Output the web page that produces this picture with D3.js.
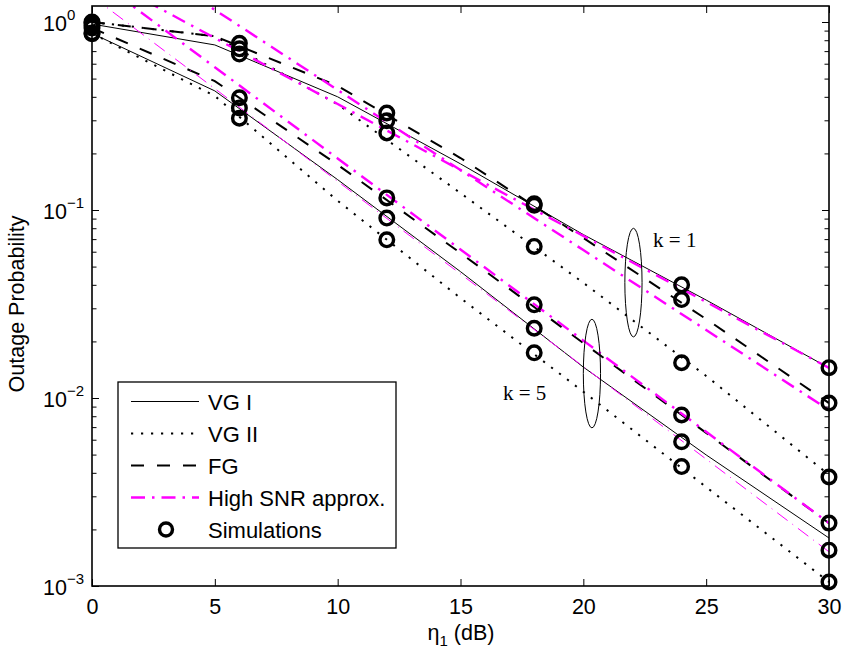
<!DOCTYPE html>
<html><head><meta charset="utf-8">
<script src="https://cdn.jsdelivr.net/npm/d3@7"></script>
<style>body{margin:0;background:#fff} svg{display:block}</style>
</head><body><svg id="c" width="845" height="655"></svg>
<script>
// ---------- data ----------
const xCurve = [0, 5, 10, 15, 20, 25, 30];
const vg1K1 = [0.975, 0.755, 0.40, 0.176, 0.074, 0.0332, 0.01445];
const vg2K1 = [1.0, 0.84, 0.365, 0.123, 0.041, 0.0131, 0.0039];
const fgK1  = [1.0, 0.84, 0.457, 0.189, 0.071, 0.0263, 0.0094];
const apxVg1K1 = [1.845, 0.822, 0.366, 0.163, 0.0728, 0.0324, 0.01445];
const apxFgK1  = [3.08, 1.16, 0.435, 0.163, 0.0612, 0.0230, 0.00863];
const vg1K5 = [0.87, 0.43, 0.145, 0.047, 0.0146, 0.00498, 0.0018];
const vg2K5 = [0.87, 0.404, 0.112, 0.034, 0.0108, 0.00336, 0.00105];
const fgK5  = [0.93, 0.485, 0.174, 0.059, 0.0196, 0.00652, 0.00216];
const apxFgK5  = [1.758, 0.575, 0.188, 0.0617, 0.0202, 0.00661, 0.00216];
const apxVg1K5 = [1.37, 0.442, 0.142, 0.0457, 0.0147, 0.00473, 0.00152];

const xSim = [0, 6, 12, 18, 24, 30];
const simVg1K1 = [0.96, 0.675, 0.298, 0.108, 0.040, 0.0145];
const simFgK1  = [1.0, 0.77, 0.328, 0.106, 0.0334, 0.0094];
const simVg2K1 = [0.99, 0.72, 0.257, 0.064, 0.0154, 0.0038];
const simFgK5  = [0.93, 0.395, 0.116, 0.0313, 0.00812, 0.00216];
const simVg1K5 = [0.875, 0.349, 0.0906, 0.0235, 0.00585, 0.00155];
const simVg2K5 = [0.865, 0.308, 0.0694, 0.0174, 0.00432, 0.00105];

const xTicks = [0, 5, 10, 15, 20, 25, 30];
const yTickExps = [-3, -2, -1, 0];
const legendLabels = ["VG I", "VG II", "FG", "High SNR approx.", "Simulations"];
const kLabels = ["k = 1", "k = 5"];
const kLabelPos = [[22.84, 0.0636], [16.73, 0.00976]];
const ellipseCenters = [[22.04, 0.0411], [20.35, 0.01349]];

// ---------- layout ----------
const L = 92, R = 829, T = 6, B = 586;
const svg = d3.select("#c");
const FONT = "'Liberation Sans', Arial, Helvetica, sans-serif";
const x = d3.scaleLinear().domain([0, 30]).range([L, R]);
const y = d3.scaleLog().domain([1e-3, 1]).range([B, 22]);

svg.append("defs").append("clipPath").attr("id", "clip")
  .append("rect").attr("x", L).attr("y", T).attr("width", R - L).attr("height", B - T);

const styles = {
  solid: {stroke: "#000", w: 1, dash: null},
  dotted: {stroke: "#000", w: 2, dash: "2.2,7.8"},
  dashed: {stroke: "#000", w: 2, dash: "13,13"},
  apx: {stroke: "#ff00ff", w: 2.4, dash: "14,7,2.5,7"},
  apxThin: {stroke: "#ff00ff", w: 1, dash: "13,6,1,6"}
};

const series = [
  [vg2K1, "dotted"], [vg2K5, "dotted"],
  [vg1K1, "solid"], [vg1K5, "solid"],
  [fgK1, "dashed"], [fgK5, "dashed"],
  [apxVg1K1, "apx"], [apxFgK1, "apx"], [apxFgK5, "apx"], [apxVg1K5, "apxThin"]
];
const line = d3.line().x(d => x(d[0])).y(d => y(d[1]));
const g = svg.append("g").attr("clip-path", "url(#clip)");
series.forEach(([vals, st]) => {
  const s = styles[st];
  g.append("path").datum(xCurve.map((xv, i) => [xv, vals[i]]))
    .attr("d", line).attr("fill", "none")
    .attr("stroke", s.stroke).attr("stroke-width", s.w)
    .attr("stroke-dasharray", s.dash);
});

// simulations
[simVg1K1, simFgK1, simVg2K1, simFgK5, simVg1K5, simVg2K5].forEach(vals => {
  svg.append("g").selectAll("circle").data(xSim.map((xv, i) => [xv, vals[i]]))
    .join("circle").attr("cx", d => x(d[0])).attr("cy", d => y(d[1]))
    .attr("r", 6.8).attr("fill", "none").attr("stroke", "#000").attr("stroke-width", 3.4);
});

// annotations
ellipseCenters.forEach(c => {
  svg.append("ellipse").attr("cx", x(c[0])).attr("cy", y(c[1]))
    .attr("rx", 8.6).attr("ry", 54.3).attr("fill", "none").attr("stroke", "#000").attr("stroke-width", 1);
});
kLabels.forEach((t, i) => {
  svg.append("text").attr("x", x(kLabelPos[i][0])).attr("y", y(kLabelPos[i][1]))
    .attr("font-family", "'Liberation Serif', 'Times New Roman', serif").attr("font-size", 21)
    .text(t);
});

// ---------- axes ----------
const minorVals = [];
for (let e = -3; e <= 0; e++) for (let m = 2; m <= 9; m++) { const v = m * Math.pow(10, e); if (y(v) >= T) minorVals.push(v); }
const majorVals = yTickExps.map(e => Math.pow(10, e));

function styleAxis(sel) {
  sel.select(".domain").remove();
  sel.selectAll(".tick line").attr("stroke", "#000").attr("stroke-width", 1);
}
svg.append("g").attr("transform", `translate(0,${B})`)
  .call(d3.axisBottom(x).tickValues(xTicks).tickSize(-7).tickPadding(12.5).tickFormat(d3.format("d")))
  .call(styleAxis)
  .call(s => s.selectAll("text").attr("font-family", FONT).attr("font-size", 21.5).attr("fill", "#000"));
svg.append("g").attr("transform", `translate(0,${T})`)
  .call(d3.axisTop(x).tickValues(xTicks).tickSize(-7).tickFormat(""))
  .call(styleAxis);
svg.append("g").attr("transform", `translate(${L},0)`)
  .call(d3.axisLeft(y).tickValues(majorVals).tickSize(-7).tickFormat("")).call(styleAxis);
svg.append("g").attr("transform", `translate(${L},0)`)
  .call(d3.axisLeft(y).tickValues(minorVals).tickSize(-4.5).tickFormat("")).call(styleAxis);
svg.append("g").attr("transform", `translate(${R},0)`)
  .call(d3.axisRight(y).tickValues(majorVals).tickSize(-7).tickFormat("")).call(styleAxis);
svg.append("g").attr("transform", `translate(${R},0)`)
  .call(d3.axisRight(y).tickValues(minorVals).tickSize(-4.5).tickFormat("")).call(styleAxis);

// y tick labels 10^k
yTickExps.forEach(e => {
  const t = svg.append("text").attr("x", 43).attr("y", y(Math.pow(10, e)) + 8.5)
    .attr("font-family", FONT).attr("font-size", 21.5).attr("fill", "#000");
  t.append("tspan").text("10");
  t.append("tspan").attr("dy", -11).attr("font-size", 15).text(e < 0 ? "\u2212" + (-e) : String(e));
});

// box
svg.append("rect").attr("x", L).attr("y", T).attr("width", R - L).attr("height", B - T)
  .attr("fill", "none").attr("stroke", "#000").attr("stroke-width", 1.6);

// axis titles
const xl = svg.append("text").attr("x", 461).attr("y", 640).attr("text-anchor", "middle")
  .attr("font-family", FONT).attr("font-size", 21.5);
xl.append("tspan").text("\u03B7");
xl.append("tspan").attr("dy", 6).attr("font-size", 15).text("1");
xl.append("tspan").attr("dy", -6).text(" (dB)");
svg.append("text").attr("transform", `translate(24,${(T + B) / 2 + 8}) rotate(-90)`)
  .attr("text-anchor", "middle").attr("font-family", FONT).attr("font-size", 21.5)
  .text("Outage Probability");

// ---------- legend ----------
const lg = svg.append("g");
lg.append("rect").attr("x", 118).attr("y", 382).attr("width", 278).attr("height", 166)
  .attr("fill", "#fff").attr("stroke", "#000").attr("stroke-width", 1.3);
const legStyles = ["solid", "dotted", "dashed", "apx", null];
legendLabels.forEach((lab, i) => {
  const cy = 401.5 + i * 32;
  const st = legStyles[i];
  if (st) {
    const s = styles[st];
    lg.append("line").attr("x1", 131).attr("x2", 199).attr("y1", cy).attr("y2", cy)
      .attr("stroke", s.stroke).attr("stroke-width", s.w).attr("stroke-dasharray", s.dash);
  } else {
    lg.append("circle").attr("cx", 166).attr("cy", cy).attr("r", 6.5)
      .attr("fill", "none").attr("stroke", "#000").attr("stroke-width", 3.4);
  }
  lg.append("text").attr("x", 208).attr("y", cy + 8).attr("font-family", FONT)
    .attr("font-size", 22).text(lab);
});
</script></body></html>
